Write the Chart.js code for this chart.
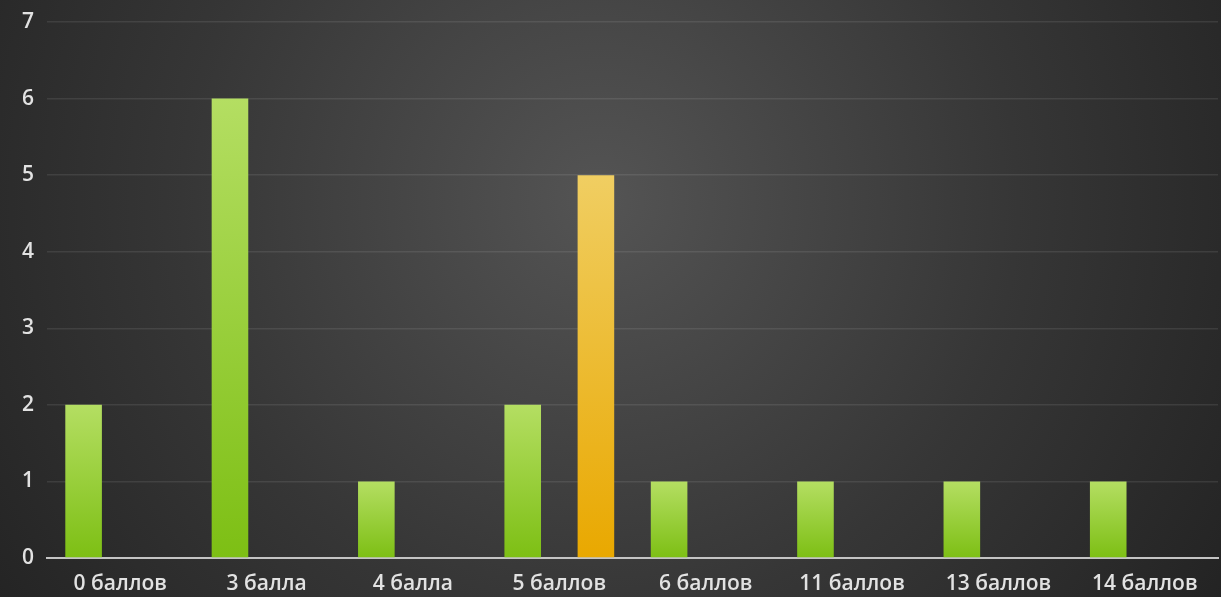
<!DOCTYPE html>
<html><head><meta charset="utf-8">
<script src="https://cdn.jsdelivr.net/npm/chart.js@4"></script>
<style>html,body{margin:0;padding:0;background:#333;}#wrap{width:1221px;height:597px;}</style>
</head><body><div id="wrap"><canvas id="c" width="1221" height="597"></canvas></div>
<script>
const categories = ["0 баллов","3 балла","4 балла","5 баллов","6 баллов","11 баллов","13 баллов","14 баллов"];
const greenValues = [2,6,1,2,1,1,1,1];
const orangeValues = [null,null,null,5,null,null,null,null];
const yTicks = [0,1,2,3,4,5,6,7];

function barGrad(top, bottom){
  return function(ctx){
    const chart = ctx.chart; const y = chart.scales.y;
    if(!y || ctx.raw == null) return bottom;
    const y0 = y.getPixelForValue(ctx.raw), y1 = y.getPixelForValue(0);
    if(!isFinite(y0) || !isFinite(y1) || y0 === y1) return bottom;
    const g = chart.ctx.createLinearGradient(0, y0, 0, y1);
    g.addColorStop(0, top); g.addColorStop(1, bottom);
    return g;
  };
}
const bgPlugin = {
  id:'bg',
  beforeDraw(chart){
    const c = chart.ctx, w = chart.width, h = chart.height;
    c.save();
    const g = c.createRadialGradient(600,200,0,600,200,760);
    g.addColorStop(0,'#545454'); g.addColorStop(0.55,'#363636'); g.addColorStop(1,'#222222');
    c.fillStyle = g; c.fillRect(0,0,w,h); c.restore();
  }
};
new Chart(document.getElementById('c'), {
  type:'bar',
  data:{labels:categories, datasets:[
    {data:greenValues, backgroundColor:barGrad('#b4de62','#7dbf14'), barPercentage:0.5, categoryPercentage:1},
    {data:orangeValues, backgroundColor:barGrad('#f0ce62','#e9a800'), barPercentage:0.5, categoryPercentage:1}
  ]},
  options:{
    responsive:false, animation:false,
    layout:{padding:{top:22,right:3,left:0,bottom:0}},
    plugins:{legend:{display:false}, tooltip:{enabled:false}},
    scales:{
      x:{
        grid:{display:false, drawTicks:false},
        border:{display:true, color:'#c4c4c4', width:2},
        ticks:{color:'#e2e2e2', font:{family:'Open Sans', size:21, weight:'600'}, padding:13, maxRotation:0, autoSkip:false},
        afterFit(s){ s.height = 39; s.paddingLeft = 0; s.paddingRight = 0; }
      },
      y:{
        min:0, max:7,
        afterBuildTicks(s){ s.ticks = yTicks.map(v=>({value:v})); },
        grid:{color:'rgba(255,255,255,0.09)', drawTicks:false, lineWidth:1.5},
        border:{display:false},
        ticks:{color:'#e2e2e2', font:{family:'Open Sans', size:21, weight:'600'}, padding:13},
        afterFit(s){ s.width = 47; s.paddingTop = 0; s.paddingBottom = 0; }
      }
    }
  },
  plugins:[bgPlugin]
});
</script></body></html>
